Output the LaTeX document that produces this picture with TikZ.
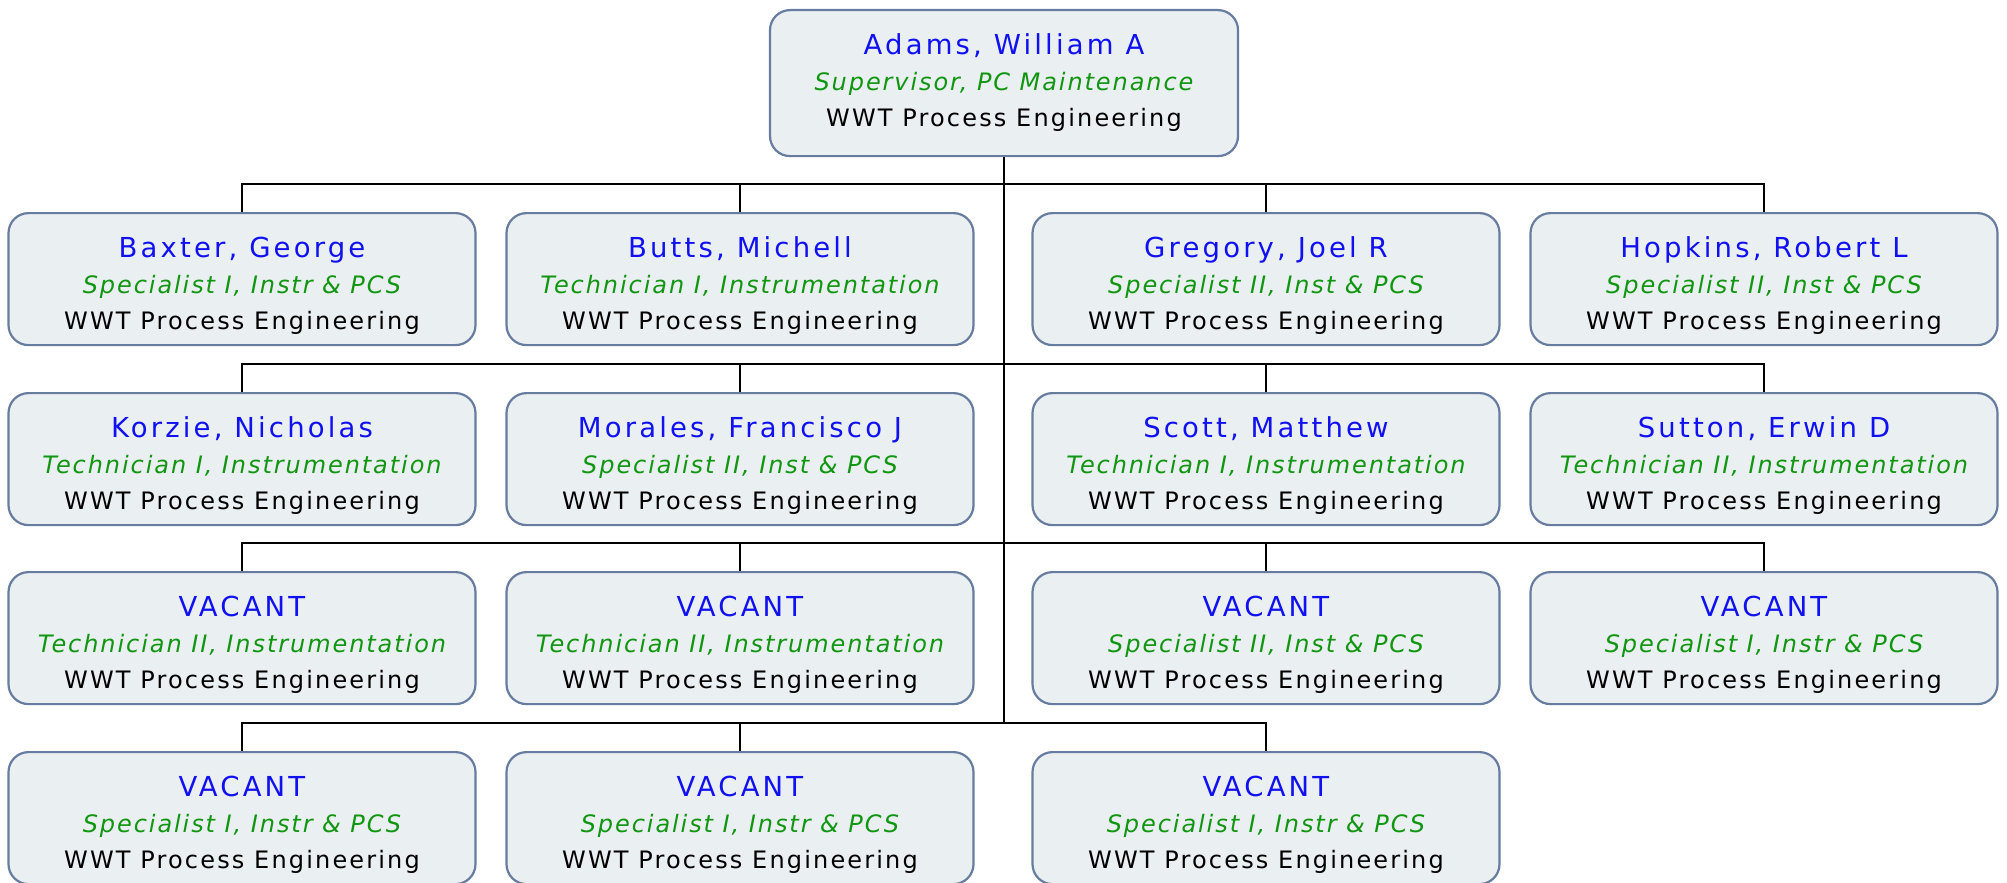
\documentclass[tikz,border=0pt]{standalone}
\usepackage{fontspec}
\usetikzlibrary{calc}
\newfontfamily\nmfam[LetterSpace=11.5]{DejaVu Sans}
\newfontfamily\ttfam[LetterSpace=8]{DejaVu Sans}
\newfontfamily\dpfam[LetterSpace=9]{DejaVu Sans}
\newcommand\namefont{\nmfam\fontsize{27.5}{36}\selectfont}
\newcommand\titlefont{\ttfam\itshape\fontsize{24}{36}\selectfont}
\newcommand\deptfont{\dpfam\fontsize{24}{36}\selectfont}
\definecolor{boxfill}{RGB}{234,239,242}
\definecolor{boxborder}{RGB}{103,124,158}
\definecolor{namecol}{RGB}{16,16,240}
\definecolor{titlecol}{RGB}{16,150,16}
\tikzset{
  box/.style={draw=boxborder, fill=boxfill, line width=2.2pt, rounded corners=20pt,
    minimum width=467pt, minimum height=132pt, inner sep=0pt, anchor=north},
  topbox/.style={box, minimum width=468pt, minimum height=146pt},
  info/.style={align=center, inner sep=0pt, font=\deptfont, text=black},
  link/.style={line width=2.2pt, black},
}
\newcommand\staff[6][box]{%
  \node[#1] (#2) at (#3,#4) {};
  \node[info] (#2-t) at ([yshift=-73.5pt]#2.north)
    {{\color{namecol}\namefont #5}\\{\color{titlecol}\titlefont #6}\\WWT Process Engineering};
}
\begin{document}
\begin{tikzpicture}[x=1pt,y=-1pt]
\useasboundingbox (0,0) rectangle (2007,883);
\staff[topbox]{adams}{1004}{9}{Adams, William A}{Supervisor, PC Maintenance}
% row 1
\staff{baxter}{242}{212}{Baxter, George}{Specialist I, Instr \& PCS}
\staff{butts}{740}{212}{Butts, Michell}{Technician I, Instrumentation}
\staff{gregory}{1266}{212}{Gregory, Joel R}{Specialist II, Inst \& PCS}
\staff{hopkins}{1764}{212}{Hopkins, Robert L}{Specialist II, Inst \& PCS}
% row 2
\staff{korzie}{242}{392}{Korzie, Nicholas}{Technician I, Instrumentation}
\staff{morales}{740}{392}{Morales, Francisco J}{Specialist II, Inst \& PCS}
\staff{scott}{1266}{392}{Scott, Matthew}{Technician I, Instrumentation}
\staff{sutton}{1764}{392}{Sutton, Erwin D}{Technician II, Instrumentation}
% row 3
\staff{vacA}{242}{571}{VACANT}{Technician II, Instrumentation}
\staff{vacB}{740}{571}{VACANT}{Technician II, Instrumentation}
\staff{vacC}{1266}{571}{VACANT}{Specialist II, Inst \& PCS}
\staff{vacD}{1764}{571}{VACANT}{Specialist I, Instr \& PCS}
% row 4
\staff{vacE}{242}{751}{VACANT}{Specialist I, Instr \& PCS}
\staff{vacF}{740}{751}{VACANT}{Specialist I, Instr \& PCS}
\staff{vacG}{1266}{751}{VACANT}{Specialist I, Instr \& PCS}
% connectors
\foreach \c in {baxter,butts,gregory,hopkins,korzie,morales,scott,sutton,vacA,vacB,vacC,vacD,vacE,vacF,vacG}
  \draw[link] (\c.north) -- ++(0,-28) -| (adams.south);
\end{tikzpicture}
\end{document}
